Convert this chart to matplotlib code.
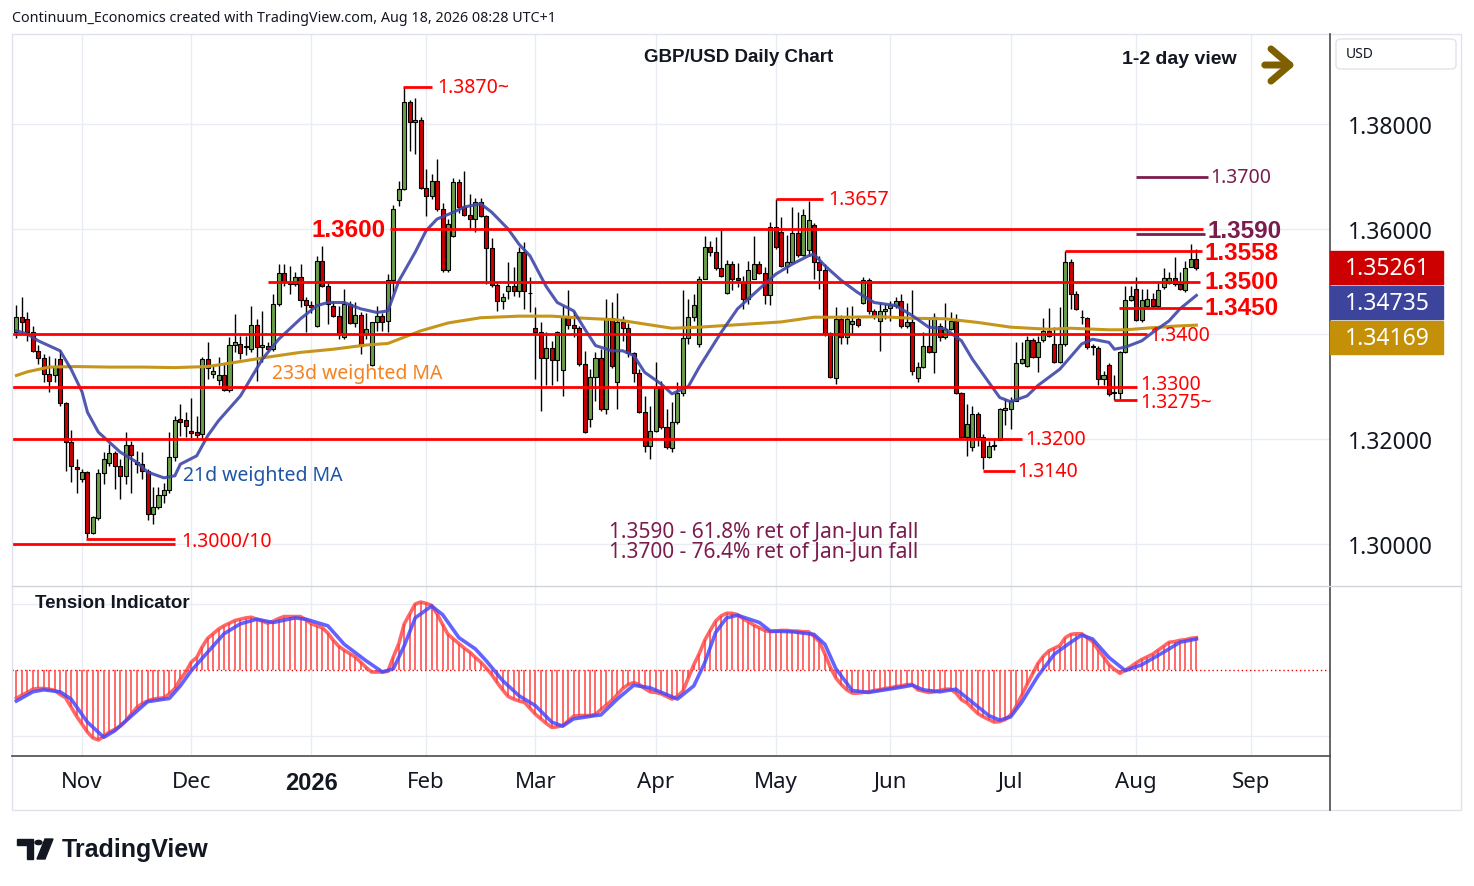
import numpy as np
import pandas as pd
import matplotlib
matplotlib.use('Agg')
from matplotlib import pyplot as plt
from matplotlib.patches import Rectangle, FancyBboxPatch, Polygon, Circle
from matplotlib.lines import Line2D

plt.rcParams['font.family'] = ['Noto Sans', 'DejaVu Sans']
BOLD = ['Liberation Sans', 'DejaVu Sans']

# GBP/USD daily bars, 16 Oct 2025 .. 18 Aug 2026
opens = [1.3403, 1.3432, 1.3429, 1.3403, 1.3368, 1.3354, 1.3323, 1.3321, 1.3352, 1.3269,
         1.3194, 1.3146, 1.3124, 1.3138, 1.3021, 1.3049, 1.3136, 1.3154, 1.3173, 1.3148,
         1.3130, 1.3189, 1.3157, 1.3152, 1.3140, 1.3057, 1.3070, 1.3093, 1.3103, 1.3165,
         1.3238, 1.3237, 1.3216, 1.3213, 1.3210, 1.3352, 1.3324, 1.3313, 1.3321, 1.3294,
         1.3380, 1.3381, 1.3375, 1.3371, 1.3418, 1.3375, 1.3378, 1.3371, 1.3457, 1.3516,
         1.3500, 1.3495, 1.3508, 1.3465, 1.3455, 1.3416, 1.3540, 1.3492, 1.3454, 1.3434,
         1.3394, 1.3458, 1.3421, 1.3437, 1.3400, 1.3341, 1.3422, 1.3435, 1.3425, 1.3502,
         1.3656, 1.3676, 1.3841, 1.3803, 1.3808, 1.3679, 1.3662, 1.3692, 1.3639, 1.3522,
         1.3586, 1.3689, 1.3641, 1.3627, 1.3619, 1.3651, 1.3624, 1.3563, 1.3493, 1.3462,
         1.3482, 1.3491, 1.3481, 1.3557, 1.3478, 1.3411, 1.3403, 1.3354, 1.3373, 1.3351,
         1.3332, 1.3432, 1.3417, 1.3411, 1.3343, 1.3238, 1.3319, 1.3354, 1.3257, 1.3430,
         1.3309, 1.3423, 1.3411, 1.3364, 1.3326, 1.3251, 1.3186, 1.3216, 1.3298, 1.3222,
         1.3182, 1.3232, 1.3287, 1.3392, 1.3432, 1.3381, 1.3505, 1.3565, 1.3556, 1.3525,
         1.3479, 1.3533, 1.3506, 1.3500, 1.3467, 1.3505, 1.3533, 1.3516, 1.3474, 1.3603,
         1.3594, 1.3529, 1.3537, 1.3592, 1.3550, 1.3560, 1.3608, 1.3538, 1.3521, 1.3402,
         1.3316, 1.3429, 1.3394, 1.3420, 1.3429, 1.3460, 1.3502, 1.3444, 1.3425, 1.3443,
         1.3449, 1.3453, 1.3463, 1.3415, 1.3422, 1.3316, 1.3338, 1.3378, 1.3366, 1.3415,
         1.3394, 1.3410, 1.3424, 1.3288, 1.3203, 1.3184, 1.3248, 1.3203, 1.3165, 1.3187,
         1.3199, 1.3255, 1.3257, 1.3273, 1.3345, 1.3340, 1.3389, 1.3357, 1.3388, 1.3406,
         1.3381, 1.3346, 1.3381, 1.3538, 1.3476, 1.3432, 1.3430, 1.3376, 1.3373, 1.3314,
         1.3341, 1.3290, 1.3288, 1.3365, 1.3465, 1.3486, 1.3427, 1.3453, 1.3467, 1.3453,
         1.3489, 1.3498, 1.3506, 1.3495, 1.3484, 1.3527, 1.3542]
highs = [1.3455, 1.3470, 1.3441, 1.3416, 1.3379, 1.3362, 1.3359, 1.3354, 1.3370, 1.3270,
         1.3218, 1.3162, 1.3143, 1.3140, 1.3054, 1.3143, 1.3176, 1.3190, 1.3178, 1.3162,
         1.3213, 1.3197, 1.3178, 1.3176, 1.3143, 1.3108, 1.3108, 1.3117, 1.3213, 1.3244,
         1.3267, 1.3251, 1.3278, 1.3244, 1.3356, 1.3384, 1.3340, 1.3356, 1.3343, 1.3394,
         1.3438, 1.3397, 1.3397, 1.3454, 1.3429, 1.3444, 1.3385, 1.3476, 1.3533, 1.3533,
         1.3530, 1.3518, 1.3533, 1.3470, 1.3462, 1.3549, 1.3567, 1.3497, 1.3463, 1.3454,
         1.3486, 1.3463, 1.3461, 1.3442, 1.3440, 1.3423, 1.3454, 1.3440, 1.3515, 1.3646,
         1.3692, 1.3870, 1.3846, 1.3850, 1.3813, 1.3714, 1.3705, 1.3733, 1.3649, 1.3619,
         1.3698, 1.3695, 1.3711, 1.3667, 1.3660, 1.3660, 1.3627, 1.3582, 1.3497, 1.3479,
         1.3537, 1.3528, 1.3565, 1.3575, 1.3508, 1.3451, 1.3423, 1.3403, 1.3387, 1.3406,
         1.3454, 1.3483, 1.3444, 1.3415, 1.3368, 1.3333, 1.3365, 1.3371, 1.3467, 1.3461,
         1.3478, 1.3434, 1.3421, 1.3366, 1.3333, 1.3281, 1.3263, 1.3346, 1.3311, 1.3257,
         1.3270, 1.3308, 1.3483, 1.3467, 1.3476, 1.3510, 1.3587, 1.3578, 1.3584, 1.3600,
         1.3541, 1.3540, 1.3535, 1.3511, 1.3540, 1.3587, 1.3540, 1.3528, 1.3613, 1.3658,
         1.3622, 1.3589, 1.3641, 1.3632, 1.3638, 1.3654, 1.3612, 1.3549, 1.3533, 1.3403,
         1.3451, 1.3436, 1.3451, 1.3454, 1.3432, 1.3508, 1.3506, 1.3448, 1.3460, 1.3457,
         1.3463, 1.3470, 1.3476, 1.3460, 1.3483, 1.3346, 1.3403, 1.3432, 1.3440, 1.3421,
         1.3460, 1.3441, 1.3438, 1.3289, 1.3267, 1.3262, 1.3252, 1.3210, 1.3197, 1.3200,
         1.3259, 1.3276, 1.3280, 1.3384, 1.3384, 1.3397, 1.3393, 1.3397, 1.3430, 1.3449,
         1.3413, 1.3451, 1.3559, 1.3543, 1.3482, 1.3445, 1.3432, 1.3381, 1.3378, 1.3330,
         1.3345, 1.3321, 1.3368, 1.3492, 1.3492, 1.3508, 1.3486, 1.3486, 1.3478, 1.3498,
         1.3525, 1.3518, 1.3546, 1.3518, 1.3540, 1.3571, 1.3561]
lows = [1.3392, 1.3400, 1.3387, 1.3365, 1.3343, 1.3308, 1.3289, 1.3308, 1.3263, 1.3140,
        1.3118, 1.3098, 1.3118, 1.3011, 1.3019, 1.3046, 1.3114, 1.3149, 1.3105, 1.3086,
        1.3114, 1.3098, 1.3136, 1.3124, 1.3046, 1.3038, 1.3067, 1.3079, 1.3098, 1.3159,
        1.3206, 1.3203, 1.3201, 1.3201, 1.3200, 1.3314, 1.3316, 1.3302, 1.3291, 1.3290,
        1.3366, 1.3352, 1.3360, 1.3365, 1.3311, 1.3347, 1.3367, 1.3368, 1.3454, 1.3492,
        1.3476, 1.3492, 1.3451, 1.3403, 1.3440, 1.3413, 1.3490, 1.3419, 1.3432, 1.3390,
        1.3390, 1.3419, 1.3413, 1.3362, 1.3390, 1.3340, 1.3406, 1.3406, 1.3403, 1.3479,
        1.3644, 1.3674, 1.3749, 1.3743, 1.3677, 1.3624, 1.3657, 1.3635, 1.3519, 1.3519,
        1.3585, 1.3631, 1.3625, 1.3600, 1.3594, 1.3622, 1.3495, 1.3489, 1.3444, 1.3448,
        1.3467, 1.3472, 1.3470, 1.3448, 1.3441, 1.3314, 1.3254, 1.3302, 1.3302, 1.3311,
        1.3282, 1.3410, 1.3394, 1.3340, 1.3211, 1.3222, 1.3273, 1.3254, 1.3248, 1.3336,
        1.3257, 1.3387, 1.3356, 1.3309, 1.3250, 1.3175, 1.3162, 1.3213, 1.3219, 1.3181,
        1.3175, 1.3228, 1.3282, 1.3381, 1.3425, 1.3375, 1.3505, 1.3549, 1.3522, 1.3508,
        1.3476, 1.3484, 1.3490, 1.3448, 1.3457, 1.3505, 1.3514, 1.3457, 1.3455, 1.3562,
        1.3528, 1.3516, 1.3535, 1.3546, 1.3549, 1.3549, 1.3505, 1.3486, 1.3397, 1.3316,
        1.3305, 1.3381, 1.3381, 1.3400, 1.3414, 1.3457, 1.3438, 1.3428, 1.3368, 1.3428,
        1.3425, 1.3449, 1.3412, 1.3411, 1.3321, 1.3308, 1.3335, 1.3364, 1.3326, 1.3386,
        1.3390, 1.3408, 1.3285, 1.3200, 1.3168, 1.3178, 1.3187, 1.3142, 1.3163, 1.3180,
        1.3198, 1.3227, 1.3219, 1.3272, 1.3343, 1.3338, 1.3355, 1.3327, 1.3385, 1.3394,
        1.3344, 1.3344, 1.3378, 1.3448, 1.3445, 1.3420, 1.3371, 1.3360, 1.3302, 1.3302,
        1.3282, 1.3275, 1.3276, 1.3363, 1.3463, 1.3425, 1.3423, 1.3449, 1.3449, 1.3449,
        1.3486, 1.3495, 1.3492, 1.3483, 1.3480, 1.3527, 1.3521]
closes = [1.3432, 1.3422, 1.3403, 1.3368, 1.3354, 1.3324, 1.3311, 1.3337, 1.3269, 1.3194,
          1.3148, 1.3142, 1.3138, 1.3021, 1.3051, 1.3136, 1.3161, 1.3173, 1.3148, 1.3130,
          1.3189, 1.3170, 1.3152, 1.3140, 1.3057, 1.3070, 1.3093, 1.3103, 1.3165, 1.3237,
          1.3233, 1.3224, 1.3211, 1.3208, 1.3352, 1.3335, 1.3329, 1.3321, 1.3294, 1.3380,
          1.3384, 1.3364, 1.3378, 1.3418, 1.3375, 1.3379, 1.3371, 1.3457, 1.3516, 1.3500,
          1.3495, 1.3508, 1.3465, 1.3455, 1.3452, 1.3540, 1.3492, 1.3457, 1.3434, 1.3402,
          1.3458, 1.3421, 1.3437, 1.3378, 1.3410, 1.3422, 1.3435, 1.3423, 1.3502, 1.3638,
          1.3676, 1.3841, 1.3803, 1.3808, 1.3679, 1.3662, 1.3692, 1.3639, 1.3522, 1.3610,
          1.3689, 1.3641, 1.3627, 1.3619, 1.3651, 1.3624, 1.3563, 1.3493, 1.3462, 1.3470,
          1.3491, 1.3482, 1.3557, 1.3481, 1.3479, 1.3403, 1.3354, 1.3373, 1.3351, 1.3403,
          1.3432, 1.3417, 1.3411, 1.3343, 1.3213, 1.3319, 1.3354, 1.3257, 1.3430, 1.3339,
          1.3423, 1.3411, 1.3364, 1.3326, 1.3251, 1.3186, 1.3216, 1.3298, 1.3222, 1.3184,
          1.3232, 1.3287, 1.3392, 1.3432, 1.3455, 1.3505, 1.3565, 1.3556, 1.3525, 1.3510,
          1.3533, 1.3505, 1.3502, 1.3467, 1.3522, 1.3533, 1.3516, 1.3474, 1.3603, 1.3565,
          1.3530, 1.3537, 1.3592, 1.3550, 1.3627, 1.3618, 1.3538, 1.3521, 1.3400, 1.3318,
          1.3429, 1.3394, 1.3429, 1.3425, 1.3417, 1.3502, 1.3444, 1.3434, 1.3444, 1.3448,
          1.3455, 1.3463, 1.3415, 1.3423, 1.3330, 1.3338, 1.3378, 1.3366, 1.3432, 1.3394,
          1.3410, 1.3424, 1.3288, 1.3203, 1.3229, 1.3248, 1.3203, 1.3165, 1.3187, 1.3189,
          1.3257, 1.3259, 1.3273, 1.3345, 1.3352, 1.3389, 1.3357, 1.3385, 1.3406, 1.3397,
          1.3346, 1.3381, 1.3538, 1.3476, 1.3448, 1.3432, 1.3375, 1.3378, 1.3314, 1.3322,
          1.3286, 1.3288, 1.3365, 1.3465, 1.3473, 1.3427, 1.3465, 1.3467, 1.3453, 1.3484,
          1.3506, 1.3506, 1.3495, 1.3486, 1.3525, 1.3542, 1.35261]

# 21d weighted MA (bar index, value)
ma21_bar = [0, 2, 4, 8, 10, 12, 13, 15, 17, 19, 22, 24, 27, 29, 30, 33, 35, 37, 41, 45,
            48, 52, 55, 57, 60, 63, 66, 68, 70, 73, 75, 77, 80, 82, 85, 87, 90, 92, 94, 97,
            99, 102, 104, 106, 109, 111, 113, 115, 118, 120, 123, 125, 129, 132, 136, 139,
            142, 145, 146, 148, 151, 154, 157, 161, 164, 167, 170, 173, 175, 178, 180, 182,
            185, 187, 191, 195, 197, 200, 201, 203, 206, 208, 211, 213, 216]
ma21_val = [1.3406, 1.3400, 1.3387, 1.3368, 1.3333, 1.3290, 1.3251, 1.3213, 1.3194, 1.3175,
            1.3156, 1.3137, 1.3126, 1.3130, 1.3152, 1.3168, 1.3206, 1.3235, 1.3282, 1.3352,
            1.3390, 1.3429, 1.3454, 1.3460, 1.3460, 1.3448, 1.3441, 1.3444, 1.3501, 1.3556,
            1.3597, 1.3619, 1.3632, 1.3642, 1.3648, 1.3632, 1.3600, 1.3571, 1.3549, 1.3490,
            1.3460, 1.3444, 1.3410, 1.3378, 1.3368, 1.3368, 1.3359, 1.3327, 1.3305, 1.3286,
            1.3300, 1.3337, 1.3403, 1.3448, 1.3486, 1.3514, 1.3533, 1.3549, 1.3552, 1.3530,
            1.3502, 1.3479, 1.3460, 1.3454, 1.3435, 1.3413, 1.3410, 1.3387, 1.3352, 1.3308,
            1.3279, 1.3271, 1.3282, 1.3302, 1.3333, 1.3381, 1.3390, 1.3384, 1.3371, 1.3375,
            1.3387, 1.3403, 1.3425, 1.3448, 1.34735]

# 233d weighted MA (bar index, value)
ma233_bar = [0, 2, 6, 11, 17, 23, 29, 35, 40, 46, 52, 58, 64, 68, 70, 74, 79, 85, 92, 98,
             104, 110, 115, 120, 125, 134, 140, 146, 152, 158, 164, 170, 176, 182, 189, 193,
             200, 203, 208, 212, 216]
ma233_val = [1.3321, 1.3328, 1.3337, 1.3338, 1.3337, 1.3337, 1.3336, 1.3338, 1.3346, 1.3356,
             1.3365, 1.3371, 1.3379, 1.3382, 1.3390, 1.3406, 1.3421, 1.3431, 1.3434, 1.3434,
             1.3430, 1.3427, 1.3419, 1.3411, 1.3413, 1.3419, 1.3423, 1.3432, 1.3432, 1.3433,
             1.3430, 1.3429, 1.3422, 1.3413, 1.3409, 1.3411, 1.3408, 1.3408, 1.3412, 1.3415,
             1.34169]

# Tension indicator, one value per bar
tension = [-0.43, -0.38, -0.34, -0.29, -0.28, -0.28, -0.29, -0.31, -0.37, -0.42,
           -0.56, -0.70, -0.82, -0.94, -1.03, -1.06, -1.00, -0.94, -0.90, -0.85,
           -0.77, -0.67, -0.57, -0.51, -0.47, -0.44, -0.43, -0.42, -0.36, -0.28,
           -0.14, -0.03, 0.12, 0.19, 0.35, 0.48, 0.55, 0.62, 0.67, 0.71,
           0.75, 0.77, 0.79, 0.80, 0.77, 0.74, 0.71, 0.74, 0.78, 0.81,
           0.81, 0.81, 0.81, 0.76, 0.70, 0.67, 0.64, 0.56, 0.45, 0.36,
           0.30, 0.25, 0.20, 0.12, 0.04, -0.03, -0.03, -0.03, -0.02, 0.20,
           0.40, 0.70, 0.85, 1.00, 1.03, 1.01, 0.98, 0.85, 0.69, 0.54,
           0.47, 0.40, 0.33, 0.27, 0.19, 0.12, 0.03, -0.07, -0.19, -0.30,
           -0.40, -0.44, -0.47, -0.49, -0.58, -0.67, -0.74, -0.81, -0.87, -0.86,
           -0.84, -0.77, -0.70, -0.69, -0.69, -0.69, -0.67, -0.60, -0.53, -0.46,
           -0.37, -0.28, -0.22, -0.19, -0.22, -0.28, -0.33, -0.34, -0.36, -0.40,
           -0.44, -0.40, -0.32, -0.12, 0.08, 0.25, 0.45, 0.60, 0.74, 0.82,
           0.86, 0.86, 0.84, 0.78, 0.73, 0.68, 0.64, 0.60, 0.58, 0.59,
           0.60, 0.60, 0.59, 0.59, 0.58, 0.58, 0.51, 0.43, 0.24, 0.04,
           -0.12, -0.22, -0.30, -0.35, -0.35, -0.34, -0.33, -0.31, -0.30, -0.28,
           -0.27, -0.25, -0.24, -0.22, -0.22, -0.30, -0.32, -0.34, -0.33, -0.31,
           -0.29, -0.29, -0.35, -0.45, -0.50, -0.58, -0.66, -0.71, -0.75, -0.79,
           -0.78, -0.75, -0.68, -0.55, -0.39, -0.22, -0.06, 0.10, 0.21, 0.29,
           0.33, 0.37, 0.49, 0.54, 0.55, 0.55, 0.49, 0.43, 0.31, 0.20,
           0.08, 0.01, -0.05, 0.00, 0.05, 0.11, 0.16, 0.20, 0.24, 0.30,
           0.36, 0.42, 0.43, 0.45, 0.46, 0.48, 0.49]

# signal line of the tension indicator (bar index, value)
signal_bar = [0, 3, 5, 8, 10, 13, 16, 18, 21, 24, 28, 30, 32, 35, 38, 41, 44, 47, 51, 53,
              57, 60, 64, 67, 69, 71, 73, 76, 78, 81, 84, 86, 89, 92, 95, 98, 100, 102, 106,
              107, 110, 113, 116, 119, 121, 124, 126, 128, 130, 132, 136, 138, 142, 146, 148,
              150, 153, 156, 162, 164, 166, 169, 172, 175, 178, 180, 182, 184, 187, 190, 193,
              195, 197, 200, 203, 206, 210, 213, 216]
signal_val = [-0.47, -0.33, -0.30, -0.33, -0.44, -0.79, -1.02, -0.92, -0.70, -0.48, -0.43,
              -0.24, -0.01, 0.27, 0.55, 0.70, 0.77, 0.72, 0.79, 0.77, 0.67, 0.39, 0.14, -0.03,
              0.02, 0.37, 0.79, 0.97, 0.84, 0.49, 0.32, 0.14, -0.16, -0.39, -0.54, -0.79, -0.85,
              -0.74, -0.69, -0.68, -0.44, -0.23, -0.27, -0.37, -0.44, -0.24, 0.11, 0.57, 0.79,
              0.83, 0.72, 0.59, 0.58, 0.54, 0.39, 0.02, -0.31, -0.34, -0.26, -0.23, -0.30, -0.33,
              -0.29, -0.49, -0.69, -0.76, -0.71, -0.49, -0.09, 0.24, 0.42, 0.53, 0.47, 0.19,
              -0.01, 0.08, 0.27, 0.42, 0.47]

W, H = 1474, 887
GREEN = '#6a9f4b'
RED = '#cc0000'
LEVEL = '#ff0000'
PURPLE = '#7b1c4e'

def fx(x):
    return x / W

def fy(y):
    return 1 - y / H

fig = plt.figure(figsize=(W / 100, H / 100), dpi=100, facecolor='white')

# trading calendar -> month ticks
dates = pd.bdate_range('2025-10-16', '2026-09-30')
dates = dates[~dates.isin(pd.to_datetime(['2025-12-25', '2026-01-01']))]
first = pd.Series(np.arange(len(dates)), index=dates).groupby([dates.year, dates.month]).first()
first = first.iloc[1:]
month_idx = list(first.values)
month_lab = [('%d' % y) if m == 1 else pd.Timestamp(y, m, 1).strftime('%b') for (y, m) in first.index]

xlim = (-0.815, 240.46)

# ---------- main price panel ----------
ax = fig.add_axes([fx(12), fy(587), (1330 - 12) / W, (587 - 35) / H])
ax.set_xlim(*xlim)
ax.set_ylim(1.292, 1.397143)
ax.set_facecolor('white')
for s in ax.spines.values():
    s.set_visible(False)
ax.set_xticks(month_idx)
ax.set_xticklabels([])
ax.set_yticks([1.30, 1.32, 1.34, 1.36, 1.38])
ax.set_yticklabels(['1.30000', '1.32000', '', '1.36000', '1.38000'])
ax.yaxis.tick_right()
ax.tick_params(axis='both', length=0)
ax.tick_params(axis='y', pad=13, labelsize=16.5, labelcolor='#131722')
ax.grid(color='#e9edf3', lw=1, zorder=0)

o = np.array(opens); h = np.array(highs); l = np.array(lows); c = np.array(closes)
idx = np.arange(len(c))
up = c >= o
ax.vlines(idx, l, h, color='black', lw=1, zorder=3)
ax.bar(idx, np.maximum(np.abs(c - o), 0.00004), bottom=np.minimum(o, c), width=0.74,
       color=np.where(up, GREEN, RED), edgecolor='black', linewidth=0.8, zorder=4)

ax.plot(ma233_bar, ma233_val, color='#c6951c', lw=2.2, zorder=5)
ax.plot(ma21_bar, ma21_val, color='#3f47a8', lw=2.2, alpha=0.9, zorder=5)

# support / resistance lines
red_lines = [(1.3600, 68.4, 217.2), (1.3500, 46.0, 216.7), (1.3400, -0.8, 207.0),
             (1.3300, -0.8, 205.1), (1.3200, -0.8, 184.1), (1.3000, -0.8, 29.0),
             (1.3010, 12.7, 29.0), (1.3870, 70.8, 76.1), (1.3657, 139.0, 147.7),
             (1.3558, 192.0, 217.1), (1.3450, 201.8, 217.1), (1.3275, 200.9, 205.1),
             (1.3140, 177.0, 182.8)]
for p, a, b in red_lines:
    ax.plot([a, b], [p, p], color=LEVEL, lw=2, zorder=6, solid_capstyle='butt')
for p, a, b in [(1.3700, 205.0, 218.1), (1.3590, 205.0, 217.6)]:
    ax.plot([a, b], [p, p], color=PURPLE, lw=2, zorder=6, solid_capstyle='butt')

big = dict(fontsize=17.5, fontweight='bold', family=BOLD, va='center', zorder=7)
small = dict(fontsize=14, va='center', zorder=7)
ax.text(67.6, 1.3600, '1.3600', color=LEVEL, ha='right', **big)
ax.text(217.4, 1.3556, '1.3558', color=LEVEL, ha='left', **big)
ax.text(217.4, 1.3500, '1.3500', color=LEVEL, ha='left', **big)
ax.text(217.4, 1.3451, '1.3450', color=LEVEL, ha='left', **big)
ax.text(218.0, 1.3597, '1.3590', color=PURPLE, ha='left', **big)
ax.text(218.5, 1.3700, '1.3700', color=PURPLE, ha='left', **small)
ax.text(207.4, 1.3399, '1.3400', color=LEVEL, ha='left', **small)
ax.text(205.7, 1.3305, '1.3300', color=LEVEL, ha='left', **small)
ax.text(205.7, 1.3271, '1.3275~', color=LEVEL, ha='left', **small)
ax.text(184.7, 1.3200, '1.3200', color=LEVEL, ha='left', **small)
ax.text(183.3, 1.3140, '1.3140', color=LEVEL, ha='left', **small)
ax.text(30.1, 1.3005, '1.3000/10', color=LEVEL, ha='left', **small)
ax.text(77.0, 1.3870, '1.3870~', color=LEVEL, ha='left', **small)
ax.text(148.6, 1.3657, '1.3657', color=LEVEL, ha='left', **small)

# ---------- tension indicator panel ----------
ax2 = fig.add_axes([fx(12), fy(757), (1330 - 12) / W, (757 - 588) / H])
ax2.set_xlim(*xlim)
ax2.set_ylim(-1.303, 1.258)
for s in ax2.spines.values():
    s.set_visible(False)
ax2.set_yticks([-1, 1])
ax2.set_yticklabels([])
ax2.set_xticks(month_idx)
ax2.set_xticklabels(month_lab)
ax2.tick_params(axis='both', length=0)
ax2.tick_params(axis='x', pad=11, labelsize=16, labelcolor='#131722')
for t in ax2.get_xticklabels():
    if t.get_text().isdigit():
        t.set_fontweight('bold')
        t.set_family(BOLD)
        t.set_fontsize(17)
ax2.grid(color='#e9edf3', lw=1, zorder=0)
ax2.axhline(0, color='red', lw=1, ls=(0, (1, 2)), zorder=2)
ax2.vlines(idx, 0, tension, color='#ff5050', lw=1.4, alpha=0.85, zorder=3)
ax2.plot(idx, tension, color='#ff4040', lw=2.6, alpha=0.8, zorder=4)
ax2.plot(signal_bar, signal_val, color='#4848ff', lw=2.6, alpha=0.85, zorder=5)

# ---------- frame ----------
fig.patches.append(Rectangle((fx(12), fy(811)), (1461 - 12) / W, (811 - 35) / H,
                             transform=fig.transFigure, fill=False, ec='#e0e3eb', lw=1))
fig.lines.append(Line2D([fx(1330), fx(1330)], [fy(35), fy(811)], color='#4a4a4a', lw=1.2,
                        transform=fig.transFigure))
fig.lines.append(Line2D([fx(12), fx(1461)], [fy(587), fy(587)], color='#d1d4dc', lw=1,
                        transform=fig.transFigure))
fig.lines.append(Line2D([fx(12), fx(1330)], [fy(757), fy(757)], color='#4a4a4a', lw=1.2,
                        transform=fig.transFigure))

# price boxes on the scale
boxes = [(closes[-1], RED), (ma21_val[-1], '#3d449c'), (ma233_val[-1], '#c39008')]
prev = -100
for v, col in boxes:
    yc = H - ax.transData.transform((0, v))[1]
    yc = max(yc, prev + 35)
    prev = yc
    fig.patches.append(Rectangle((fx(1330), fy(yc + 16.5)), 113 / W, 33 / H,
                                 transform=fig.transFigure, color=col, zorder=10))
    fig.text(fx(1387), fy(yc), '%.5f' % v, color='white', fontsize=16.5,
             ha='center', va='center', zorder=11)

fig.patches.append(FancyBboxPatch((fx(1336), fy(70)), 120 / W, 30 / H,
                                  boxstyle='round,pad=0,rounding_size=0.004',
                                  transform=fig.transFigure, fc='white', ec='#e0e3eb', lw=1))
fig.text(fx(1346), fy(55), 'USD', fontsize=10, va='center', color='#131722')

# ---------- texts ----------
fig.text(fx(12), fy(19), 'Continuum_Economics created with TradingView.com, Aug 18, 2026 08:28 UTC+1',
         fontsize=10.3, va='center', color='#131722')
fig.text(fx(739), fy(58), 'GBP/USD Daily Chart', fontsize=13.5, fontweight='bold',
         family=BOLD, ha='center', va='center', color='#131722')
fig.text(fx(1179), fy(60), '1-2 day view', fontsize=14, fontweight='bold',
         family=BOLD, ha='center', va='center', color='#131722')
ax.annotate('', xy=(fx(1298), fy(66)), xytext=(fx(1262), fy(66)),
            xycoords='figure fraction', textcoords='figure fraction',
            arrowprops=dict(arrowstyle='->,head_length=0.68,head_width=0.58',
                            mutation_scale=20, lw=5, color='#7f6000',
                            capstyle='round', joinstyle='round'))
fig.text(fx(35), fy(604), 'Tension Indicator', fontsize=13.5, fontweight='bold',
         family=BOLD, va='center', color='#131722')
fig.text(fx(272), fy(374), '233d weighted MA', fontsize=14, va='center', color='#f5821f')
fig.text(fx(183), fy(476), '21d weighted MA', fontsize=14, va='center', color='#1f55a5')
fig.text(fx(609), fy(532), '1.3590 - 61.8% ret of Jan-Jun fall', fontsize=15,
         va='center', color=PURPLE)
fig.text(fx(609), fy(552), '1.3700 - 76.4% ret of Jan-Jun fall', fontsize=15,
         va='center', color=PURPLE)

# TradingView logo
fig.patches.append(Polygon([(fx(17), fy(840)), (fx(33), fy(840)), (fx(33), fy(860)),
                            (fx(27), fy(860)), (fx(27), fy(846)), (fx(17), fy(846))],
                           closed=True, transform=fig.transFigure, color='#131722'))
fig.patches.append(Circle((fx(38.5), fy(843.5)), 3.5 / W, transform=fig.transFigure,
                          color='#131722'))
fig.patches.append(Polygon([(fx(45), fy(840)), (fx(53), fy(840)), (fx(45), fy(860)),
                            (fx(37), fy(860))], closed=True, transform=fig.transFigure,
                           color='#131722'))
fig.text(fx(62), fy(850), 'TradingView', fontsize=18, fontweight='bold', family=BOLD,
         va='center', color='#131722')

fig.savefig('out.png', dpi=100, facecolor='white')
